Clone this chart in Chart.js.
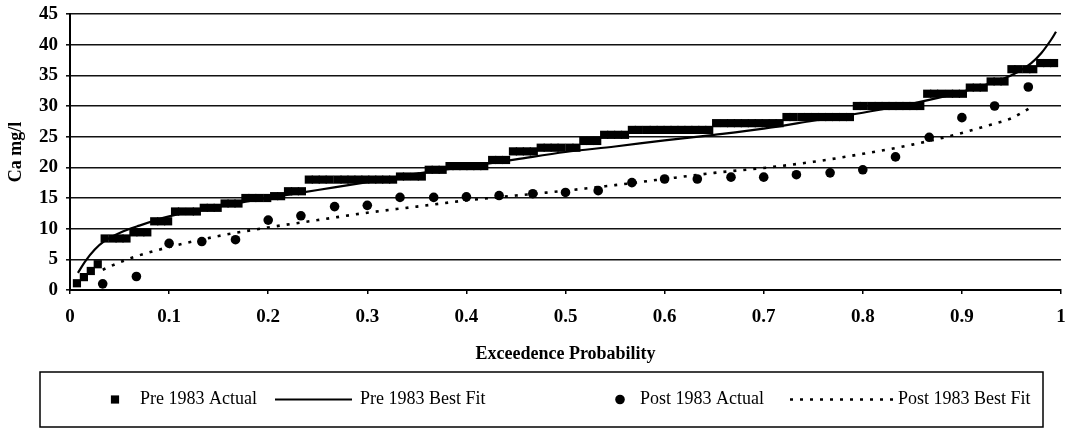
<!DOCTYPE html>
<html>
<head>
<meta charset="utf-8">
<title>Ca exceedence</title>
<script src="https://cdn.jsdelivr.net/npm/chart.js@4.4.1/dist/chart.umd.min.js"></script>
<style>
  html, body { margin: 0; padding: 0; background: #fff; }
  #caChart { display: block; }
</style>
</head>
<body>
<canvas id="caChart" width="1070" height="430"></canvas>
<script>
// Pre 1983 sorted Ca values and their exceedence probabilities
var preProb = [
  0.007, 0.014, 0.021, 0.028, 0.035, 0.043, 0.050, 0.057, 0.064, 0.071,
  0.078, 0.085, 0.092, 0.099, 0.106, 0.113, 0.121, 0.128, 0.135, 0.142,
  0.149, 0.156, 0.163, 0.170, 0.177, 0.184, 0.191, 0.199, 0.206, 0.213,
  0.220, 0.227, 0.234, 0.241, 0.248, 0.255, 0.262, 0.270, 0.277, 0.284,
  0.291, 0.298, 0.305, 0.312, 0.319, 0.326, 0.333, 0.340, 0.348, 0.355,
  0.362, 0.369, 0.376, 0.383, 0.390, 0.397, 0.404, 0.411, 0.418, 0.426,
  0.433, 0.440, 0.447, 0.454, 0.461, 0.468, 0.475, 0.482, 0.489, 0.496,
  0.504, 0.511, 0.518, 0.525, 0.532, 0.539, 0.546, 0.553, 0.560, 0.567,
  0.574, 0.582, 0.589, 0.596, 0.603, 0.610, 0.617, 0.624, 0.631, 0.638,
  0.645, 0.652, 0.660, 0.667, 0.674, 0.681, 0.688, 0.695, 0.702, 0.709,
  0.716, 0.723, 0.730, 0.738, 0.745, 0.752, 0.759, 0.766, 0.773, 0.780,
  0.787, 0.794, 0.801, 0.809, 0.816, 0.823, 0.830, 0.837, 0.844, 0.851,
  0.858, 0.865, 0.872, 0.879, 0.887, 0.894, 0.901, 0.908, 0.915, 0.922,
  0.929, 0.936, 0.943, 0.950, 0.957, 0.965, 0.972, 0.979, 0.986, 0.993
];
var preCa = [
  1.1, 2.1, 3.1, 4.2, 8.4, 8.4, 8.4, 8.4, 9.4, 9.4,
  9.4, 11.2, 11.2, 11.2, 12.8, 12.8, 12.8, 12.8, 13.4, 13.4,
  13.4, 14.1, 14.1, 14.1, 15.0, 15.0, 15.0, 15.0, 15.3, 15.3,
  16.1, 16.1, 16.1, 18.0, 18.0, 18.0, 18.0, 18.0, 18.0, 18.0,
  18.0, 18.0, 18.0, 18.0, 18.0, 18.0, 18.5, 18.5, 18.5, 18.5,
  19.6, 19.6, 19.6, 20.2, 20.2, 20.2, 20.2, 20.2, 20.2, 21.2,
  21.2, 21.2, 22.6, 22.6, 22.6, 22.6, 23.2, 23.2, 23.2, 23.2,
  23.2, 23.2, 24.3, 24.3, 24.3, 25.3, 25.3, 25.3, 25.3, 26.1,
  26.1, 26.1, 26.1, 26.1, 26.1, 26.1, 26.1, 26.1, 26.1, 26.1,
  26.1, 27.2, 27.2, 27.2, 27.2, 27.2, 27.2, 27.2, 27.2, 27.2,
  27.2, 28.2, 28.2, 28.2, 28.2, 28.2, 28.2, 28.2, 28.2, 28.2,
  28.2, 30.0, 30.0, 30.0, 30.0, 30.0, 30.0, 30.0, 30.0, 30.0,
  30.0, 32.0, 32.0, 32.0, 32.0, 32.0, 32.0, 33.0, 33.0, 33.0,
  34.0, 34.0, 34.0, 36.0, 36.0, 36.0, 36.0, 37.0, 37.0, 37.0
];

// fitted curve for the pre 1983 record
var preFitProb = [0.008, 0.015, 0.025, 0.035, 0.05, 0.07, 0.1, 0.15, 0.2, 0.25,
  0.3, 0.35, 0.4, 0.45, 0.5, 0.55, 0.6, 0.65, 0.7, 0.75,
  0.8, 0.85, 0.9, 0.93, 0.95, 0.97, 0.98, 0.99, 0.995];
var preFitCa = [2.8, 4.6, 6.6, 8.0, 9.3, 10.5, 12.0, 13.6, 15.0, 16.3,
  17.6, 19.0, 20.1, 21.3, 22.5, 23.4, 24.4, 25.3, 26.3, 27.6,
  28.9, 30.4, 32.3, 33.8, 35.0, 37.0, 38.6, 40.8, 42.1];

// Post 1983 sorted values
var postProb = [0.033, 0.067, 0.1, 0.133, 0.167, 0.2, 0.233, 0.267, 0.3, 0.333,
  0.367, 0.4, 0.433, 0.467, 0.5, 0.533, 0.567, 0.6, 0.633, 0.667,
  0.7, 0.733, 0.767, 0.8, 0.833, 0.867, 0.9, 0.933, 0.967];
var postCa = [1.0, 2.2, 7.6, 7.9, 8.2, 11.4, 12.1, 13.6, 13.8, 15.1,
  15.1, 15.2, 15.4, 15.7, 15.9, 16.2, 17.5, 18.1, 18.1, 18.4,
  18.4, 18.8, 19.1, 19.6, 21.7, 24.9, 28.1, 30.0, 33.1];

var postFitProb = [0.033, 0.05, 0.065, 0.1, 0.15, 0.2, 0.25, 0.3, 0.35, 0.4,
  0.45, 0.5, 0.55, 0.6, 0.65, 0.7, 0.75, 0.8, 0.85, 0.9,
  0.93, 0.95, 0.97];
var postFitCa = [3.3, 4.5, 5.4, 7.0, 8.8, 10.2, 11.4, 12.6, 13.6, 14.6,
  15.4, 16.2, 17.1, 18.1, 19.1, 19.9, 20.9, 22.2, 23.7, 25.6,
  27.0, 28.0, 29.8];

var seriesNames = ['Pre 1983 Actual', 'Pre 1983 Best Fit', 'Post 1983 Actual', 'Post 1983 Best Fit'];

function pairs(xs, ys) {
  return xs.map(function (x, i) { return { x: x, y: ys[i] }; });
}

var serif = "'Liberation Serif', 'Times New Roman', serif";

// legend drawn as a framed row under the axis title
var boxedLegend = {
  id: 'boxedLegend',
  afterDraw: function (chart, args, opts) {
    var ctx = chart.ctx;
    var midY = opts.top + opts.height / 2;
    ctx.save();
    ctx.strokeStyle = '#000';
    ctx.lineWidth = 1.5;
    ctx.strokeRect(opts.left, opts.top, opts.width, opts.height);
    ctx.fillStyle = '#000';
    ctx.font = opts.font;
    ctx.textBaseline = 'middle';
    ctx.textAlign = 'left';
    chart.data.datasets.forEach(function (ds, i) {
      var item = opts.items[i];
      if (ds.showLine) {
        ctx.beginPath();
        ctx.strokeStyle = ds.borderColor;
        ctx.lineWidth = ds.borderWidth;
        ctx.setLineDash(ds.borderDash || []);
        ctx.moveTo(item.symbol[0], midY);
        ctx.lineTo(item.symbol[1], midY);
        ctx.stroke();
        ctx.setLineDash([]);
      } else {
        Chart.helpers.drawPoint(ctx, {
          pointStyle: ds.pointStyle,
          radius: ds.pointRadius,
          rotation: 0,
          borderWidth: 0
        }, item.symbol[0], midY);
      }
      ctx.fillText(ds.label, item.text, midY);
    });
    ctx.restore();
  }
};

var ctx = document.getElementById('caChart').getContext('2d');
var caChart = new Chart(ctx, {
  type: 'scatter',
  data: {
    datasets: [{
      label: seriesNames[0],
      data: pairs(preProb, preCa),
      pointStyle: 'rect',
      pointRadius: 5.8,
      pointBorderWidth: 0,
      backgroundColor: '#000',
      borderColor: '#000',
      showLine: false
    }, {
      label: seriesNames[1],
      data: pairs(preFitProb, preFitCa),
      showLine: true,
      borderColor: '#000',
      borderWidth: 2.2,
      pointRadius: 0,
      cubicInterpolationMode: 'monotone'
    }, {
      label: seriesNames[2],
      data: pairs(postProb, postCa),
      pointStyle: 'circle',
      pointRadius: 4.8,
      pointBorderWidth: 0,
      backgroundColor: '#000',
      borderColor: '#000',
      showLine: false
    }, {
      label: seriesNames[3],
      data: pairs(postFitProb, postFitCa),
      showLine: true,
      borderColor: '#000',
      borderWidth: 2.6,
      borderDash: [3, 7],
      pointRadius: 0,
      cubicInterpolationMode: 'monotone'
    }]
  },
  options: {
    responsive: false,
    animation: false,
    devicePixelRatio: 1,
    layout: {
      padding: { top: 14, right: 9, bottom: 0, left: 0 }
    },
    scales: {
      x: {
        type: 'linear',
        min: 0,
        max: 1,
        afterFit: function (scale) {
          scale.height = 140;
          scale.paddingLeft = 0;
          scale.paddingRight = 0;
        },
        ticks: {
          stepSize: 0.1,
          color: '#000',
          padding: 12,
          maxRotation: 0,
          font: { family: serif, size: 19, weight: 'bold' },
          callback: function (value) { return String(+value.toFixed(1)); }
        },
        grid: {
          drawOnChartArea: false,
          drawTicks: true,
          tickLength: 4,
          color: '#000',
          lineWidth: 1.5
        },
        border: { display: true, color: '#000', width: 2 },
        title: {
          display: true,
          text: 'Exceedence Probability',
          color: '#000',
          font: { family: serif, size: 18, weight: 'bold' },
          padding: { top: 0, bottom: 65 }
        }
      },
      y: {
        min: 0,
        max: 45,
        afterFit: function (scale) {
          scale.width = 70;
          scale.paddingTop = 0;
          scale.paddingBottom = 0;
        },
        ticks: {
          stepSize: 5,
          color: '#000',
          padding: 8,
          font: { family: serif, size: 19, weight: 'bold' }
        },
        grid: {
          color: '#111',
          lineWidth: 1.6,
          tickLength: 4
        },
        border: { display: true, color: '#000', width: 2 },
        title: {
          display: true,
          text: 'Ca mg/l',
          color: '#000',
          font: { family: serif, size: 18, weight: 'bold' },
          padding: { top: 6, bottom: 0 }
        }
      }
    },
    plugins: {
      legend: { display: false },
      tooltip: { enabled: false },
      boxedLegend: {
        left: 40,
        top: 372,
        width: 1003,
        height: 55,
        font: '18px ' + serif,
        items: [
          { symbol: [115], text: 140 },
          { symbol: [275, 352], text: 360 },
          { symbol: [620], text: 640 },
          { symbol: [790, 893], text: 898 }
        ]
      }
    }
  },
  plugins: [boxedLegend]
});
</script>
</body>
</html>
